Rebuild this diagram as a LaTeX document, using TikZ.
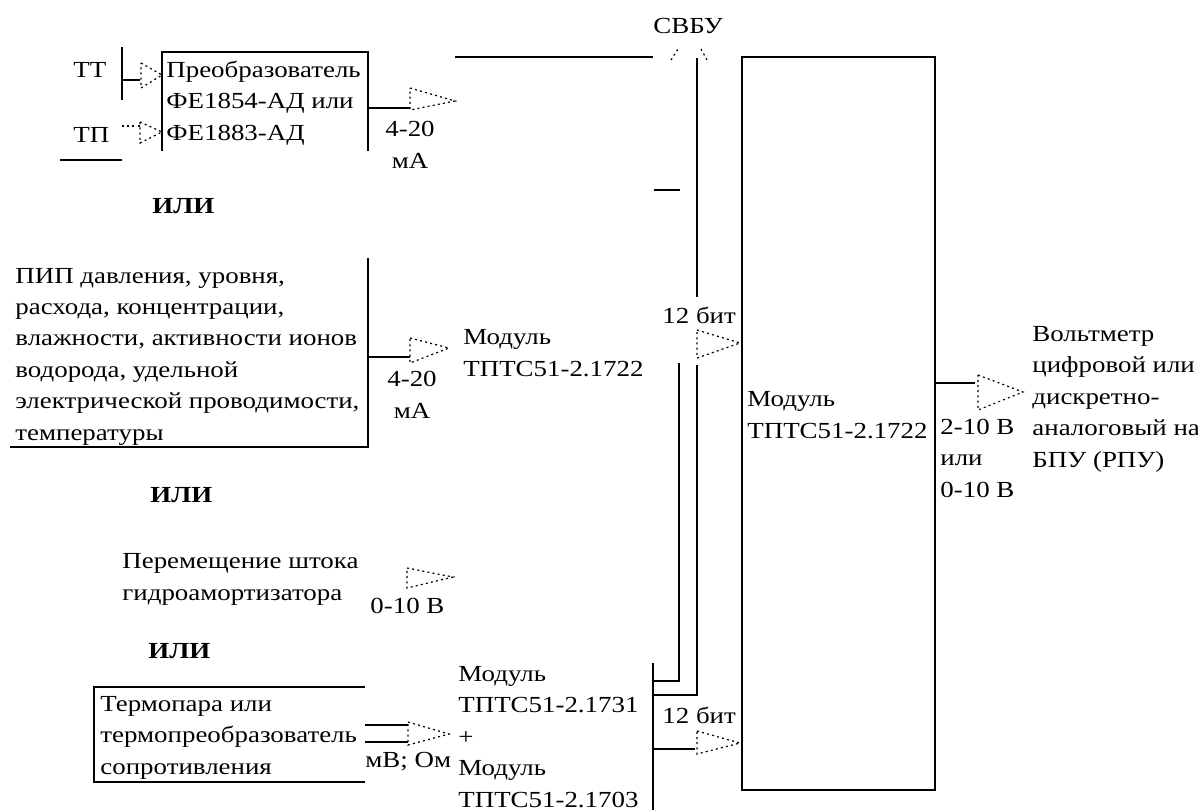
\documentclass[tikz,border=0pt]{standalone}
\usepackage{fontspec}
\setmainfont{Liberation Serif}[FakeStretch=1.17]
\usepackage{tikz}

\begin{document}
\begin{tikzpicture}[x=0.5pt, y=-0.5pt,
        every node/.style={inner sep=0pt, anchor=base west, align=left,
                           font=\fontsize{11.5}{15.7}\selectfont},
        wire/.style={line width=0.75pt},
        hollow/.style={line width=0.6pt, dash pattern=on 1pt off 1.6pt},
        ili/.style={font=\fontsize{11.5}{15.7}\selectfont\bfseries}]
        \useasboundingbox (0,0) rectangle (1198,810);
        % Texts (multi-line nodes sit on their last baseline)
        \node (svbu) at (653,33) {СВБУ};
        \node (tt) at (73,77) {ТТ};
        \node (tp) at (73,142) {ТП};
        \node (conv) at (166,140) {Преобразователь\\ФЕ1854-АД или\\ФЕ1883-АД};
        \node[anchor=base, align=center] (ma1) at (410,168) {4-20\\мА};
        \node[ili] (ili1) at (152,213) {ИЛИ};
        \node (sens) at (15,440) {ПИП давления, уровня,\\расхода, концентрации,\\влажности, активности ионов\\водорода, удельной\\электрической проводимости,\\температуры};
        \node[anchor=base, align=center] (ma2) at (412,418) {4-20\\мА};
        \node (mod1) at (463,376) {Модуль\\ТПТС51-2.1722};
        \node[ili] (ili2) at (150,502) {ИЛИ};
        \node (stroke) at (122,600) {Перемещение штока\\гидроамортизатора};
        \node (v010) at (370,613) {0-10 В};
        \node[ili] (ili3) at (148,658) {ИЛИ};
        \node (thermo) at (100,774) {Термопара или\\термопреобразователь\\сопротивления};
        \node (mvom) at (365,767) {мВ; Ом};
        \node (mod2) at (458,807) {Модуль\\ТПТС51-2.1731\\+\\Модуль\\ТПТС51-2.1703};
        \node (bit1) at (662,323) {12 бит};
        \node (bit2) at (662,723) {12 бит};
        \node (main) at (747,438) {Модуль\\ТПТС51-2.1722};
        \node (outv) at (940,497) {2-10 В\\или\\0-10 В};
        \node (voltm) at (1032,467) {Вольтметр\\цифровой или\\дискретно-\\аналоговый на\\БПУ (РПУ)};
        % Coordinates
        \coordinate (convout) at (368,108);
        \coordinate (a3) at (410,108);
        \coordinate (sensout) at (368,357);
        \coordinate (a4) at (410,357);
        \coordinate (mainout) at (935,383);
        \coordinate (a9) at (975,383);
        \coordinate (bus) at (653,663);
        \coordinate (busend) at (653,810);
        % Boxes
        \draw[wire] (162,151) -- (162,52) -- (368,52) -- (368,151);
        \draw[wire] (368,258) -- (368,447) -- (10,447);
        \draw[wire] (365,687) -- (94,687) -- (94,782) -- (365,782);
        \draw[wire] (742,57) rectangle (935,790);
        % Wires
        \draw[wire] (122,47) -- (122,100);
        \draw[wire] (122,80) -- (140,80);
        \draw[hollow] (122,126) -- (140,126);
        \draw[wire] (60,160) -- (122,160);
        \draw[wire] (convout) -- (a3);
        \draw[wire] (sensout) -- (a4);
        \draw[wire] (365,725) -- (408,725);
        \draw[wire] (365,742) -- (408,742);
        \draw[wire] (455,57) -- (653,57);
        \draw[wire] (697,58) -- (697,297);
        \draw[wire] (654,190) -- (680,190);
        \draw[wire] (bus) -- (busend);
        \draw[wire] (653,681) -- (679,681) -- (679,363);
        \draw[wire] (653,695) -- (697,695) -- (697,365);
        \draw[wire] (653,749) -- (695,749);
        \draw[wire] (mainout) -- (a9);
        % Hollow arrows
        \foreach \bx/\ta/\tb/\px/\py in {141/63/88/162/75, 140/122/143/162/132,
                410/88/110/455/101, 410/338/363/449/348, 407/568/588/453/577,
                408/722/745/449/734, 697/330/358/740/343, 697/731/754/740/743,
                978/375/410/1023/392}
            \draw[hollow] (\bx,\ta) -- (\px,\py) -- (\bx,\tb) -- cycle;
        \draw[hollow] (671,60) -- (678,49);
        \draw[hollow] (701,49) -- (707,60);
    \end{tikzpicture}
\end{document}
